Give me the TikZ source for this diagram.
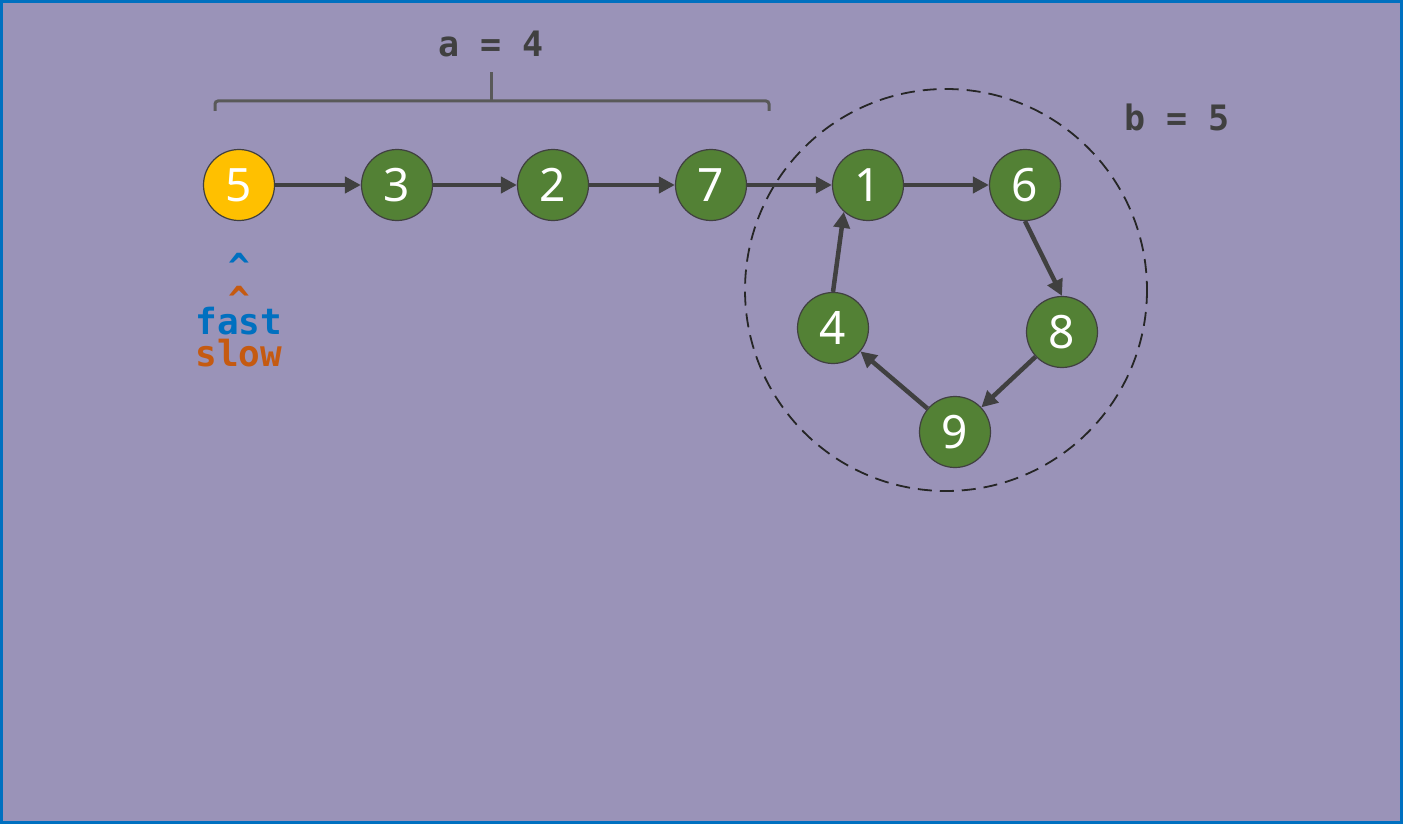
\documentclass[tikz,border=0pt]{standalone}
\usepackage{fontspec}
\setmainfont{Noto Sans}
\setmonofont{DejaVu Sans Mono}
\usetikzlibrary{arrows.meta,positioning}
\definecolor{cBg}{HTML}{9A93B8}
\definecolor{cFrame}{HTML}{0070C0}
\definecolor{cGreen}{HTML}{538135}
\definecolor{cGold}{HTML}{FFC000}
\definecolor{cInk}{HTML}{404040}
\definecolor{cBrace}{HTML}{595959}
\definecolor{cFast}{HTML}{0070C0}
\definecolor{cSlow}{HTML}{C55A11}
\tikzset{
  elem/.style={circle,draw=cInk,line width=1.2pt,fill=cGreen,minimum size=71pt,inner sep=0pt,
    text=white,font=\fontsize{46}{46}\selectfont},
  head/.style={elem,fill=cGold},
  link/.style={-{Triangle[length=16pt,width=16pt]},line width=4.5pt,cInk},
  lbl/.style={font=\ttfamily\bfseries\fontsize{35}{35}\selectfont,text=cInk},
  ptr/.style={font=\ttfamily\bfseries\fontsize{36}{36}\selectfont,inner sep=0pt,anchor=base,
    text height=0.52em,text depth=0pt},
}

\begin{document}
\begin{tikzpicture}[x=1pt,y=-1pt]
  \useasboundingbox (0,0) rectangle (1403,824);
  \fill[cBg] (0,0) rectangle (1403,824);
  \draw[cFrame,line width=3pt] (1.5,1.5) rectangle (1401.5,822.5);
  % the list before the cycle
  \node[head] (n5) at (239,185) {5};
  \node[elem] (n3) at (397,185) {3};
  \node[elem] (n2) at (553,185) {2};
  \node[elem] (n7) at (711,185) {7};
  % the cycle
  \node[elem] (n1) at (868,185) {1};
  \node[elem] (n6) at (1025,185) {6};
  \node[elem] (n8) at (1062,332) {8};
  \node[elem] (n9) at (955,432) {9};
  \node[elem] (n4) at (833,328) {4};
  \draw[dash pattern=on 14pt off 8pt,line width=1.8pt,black!85] (946,290) circle (201);
  \draw[link] (n5) -- (n3);
  \draw[link] (n3) -- (n2);
  \draw[link] (n2) -- (n7);
  \draw[link] (n7) -- (n1);
  \draw[link] (n1) -- (n6);
  \draw[link] (n6.south) -- (n8.north);
  \draw[link] (n8) -- (n9);
  \draw[link] (n9) -- (n4);
  \draw[link] (n4.north) -- (n1.228);
  % brace over the tail
  \coordinate (bL) at (215,111);
  \coordinate (bR) at (769,111);
  \coordinate (bT) at (491,72);
  \draw[cBrace,line width=3pt,rounded corners=3pt] (bL) -- (215,101) -- (769,101) -- (bR);
  \draw[cBrace,line width=3pt] (491,101) -- (bT);
  \node[lbl] (la) at (491,44) {a = 4};
  \node[lbl] (lb) at (1177,117) {b = 5};
  % pointers
  \node[ptr,text=cFast] (cf) at (239,279) {\^{}};
  \node[ptr,text=cSlow] (cs) at (239,312) {\^{}};
  \node[ptr,text=cFast] (tf) at (239,334) {fast};
  \node[ptr,text=cSlow] (ts) at (239,366) {slow};
\end{tikzpicture}
\end{document}
